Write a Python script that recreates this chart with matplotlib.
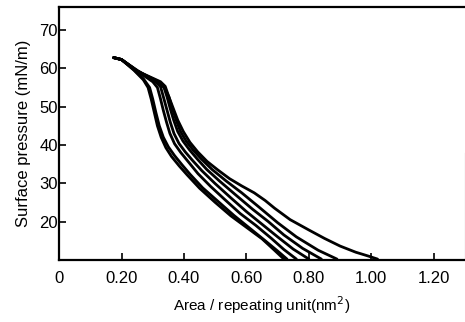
import matplotlib.pyplot as plt

# Pressure-area isotherms, repeated compression cycles
area_1 = [0.175, 0.20, 0.24, 0.27, 0.285, 0.295, 0.305, 0.315, 0.327, 0.342, 0.36, 0.385, 0.41, 0.45, 0.50, 0.55, 0.60, 0.65, 0.69, 0.72]
pres_1 = [62.8, 62.3, 59.5, 57.0, 55.0, 52.0, 48.5, 45.0, 42.0, 39.3, 37.0, 34.5, 32.2, 28.7, 25.0, 21.5, 18.5, 15.5, 12.5, 10.2]

area_2 = [0.175, 0.20, 0.24, 0.27, 0.29, 0.30, 0.31, 0.321, 0.334, 0.35, 0.37, 0.395, 0.42, 0.46, 0.51, 0.56, 0.61, 0.66, 0.70, 0.73]
pres_2 = [62.8, 62.3, 59.6, 57.3, 55.0, 52.0, 48.5, 45.0, 42.0, 39.5, 37.2, 34.7, 32.3, 28.8, 25.2, 21.6, 18.3, 15.0, 12.3, 10.2]

area_3 = [0.175, 0.20, 0.25, 0.30, 0.315, 0.325, 0.334, 0.344, 0.355, 0.37, 0.39, 0.415, 0.445, 0.485, 0.53, 0.58, 0.63, 0.68, 0.72, 0.76]
pres_3 = [62.8, 62.3, 59.3, 56.5, 55.0, 52.0, 49.0, 46.0, 43.0, 40.3, 38.0, 35.5, 32.5, 29.2, 25.8, 22.1, 19.0, 15.6, 12.7, 10.2]

area_4 = [0.175, 0.20, 0.25, 0.31, 0.325, 0.336, 0.346, 0.356, 0.368, 0.384, 0.404, 0.427, 0.457, 0.50, 0.55, 0.60, 0.65, 0.70, 0.75, 0.80]
pres_4 = [62.8, 62.3, 59.3, 56.5, 55.2, 52.0, 49.0, 46.0, 43.0, 40.4, 38.2, 36.0, 33.3, 29.9, 26.2, 22.6, 19.3, 16.0, 12.8, 10.2]

area_5 = [0.175, 0.20, 0.25, 0.32, 0.335, 0.346, 0.356, 0.367, 0.38, 0.397, 0.418, 0.443, 0.473, 0.515, 0.565, 0.62, 0.67, 0.72, 0.78, 0.84]
pres_5 = [62.8, 62.3, 59.3, 56.5, 55.3, 52.5, 49.5, 46.5, 43.5, 41.0, 38.7, 36.3, 33.6, 30.5, 27.0, 23.2, 20.0, 16.5, 13.0, 10.2]

area_6 = [0.175, 0.20, 0.25, 0.325, 0.34, 0.352, 0.363, 0.375, 0.389, 0.407, 0.429, 0.455, 0.49, 0.535, 0.585, 0.64, 0.70, 0.76, 0.83, 0.89]
pres_6 = [62.8, 62.3, 59.3, 56.5, 55.3, 52.5, 49.5, 46.5, 43.5, 41.0, 38.7, 36.4, 33.6, 30.6, 27.5, 23.8, 19.7, 16.0, 12.5, 10.2]

area_7 = [0.175, 0.20, 0.25, 0.30, 0.337, 0.352, 0.366, 0.38, 0.398, 0.419, 0.444, 0.474, 0.508, 0.546, 0.585, 0.625,
          0.66, 0.69, 0.74, 0.80, 0.85, 0.90, 0.95, 0.99, 1.02]
pres_7 = [62.8, 62.3, 59.5, 57.0, 55.0, 52.5, 49.5, 46.5, 43.5, 40.7, 38.2, 35.7, 33.5, 31.2, 29.3, 27.5,
          25.5, 23.5, 20.5, 17.8, 15.6, 13.6, 12.0, 11.0, 10.2]

curves = [(area_1, pres_1), (area_2, pres_2), (area_3, pres_3), (area_4, pres_4),
          (area_5, pres_5), (area_6, pres_6), (area_7, pres_7)]

x_ticks = [0, 0.2, 0.4, 0.6, 0.8, 1.0, 1.2]
x_labels = ["0", "0.20", "0.40", "0.60", "0.80", "1.00", "1.20"]
y_ticks = [20, 30, 40, 50, 60, 70]

plt.rcParams['font.family'] = ['Liberation Sans', 'DejaVu Sans']

fig = plt.figure(figsize=(4.65, 3.22), dpi=100)
ax = fig.add_axes([0.127, 0.193, 0.873, 0.785])

for xs, ys in curves:
    ax.plot(xs, ys, color="black", lw=2.0, solid_capstyle="round", solid_joinstyle="round")

ax.set_xlim(0, 1.3)
ax.set_ylim(10, 76)
ax.set_xticks(x_ticks)
ax.set_xticklabels(x_labels)
ax.set_yticks(y_ticks)
ax.tick_params(direction="in", length=5, width=1.2, labelsize=12)
ax.tick_params(axis="x", pad=8)
ax.tick_params(axis="y", pad=1)

for side in ["left", "bottom", "top"]:
    ax.spines[side].set_linewidth(1.6)
ax.spines["right"].set_linewidth(0.8)
ax.spines["right"].set_color("#888888")
ax.spines["right"].set_bounds(10, 38)

ax.set_xlabel("Area / repeating unit(nm$^2$)", fontsize=11, labelpad=6)
ax.set_ylabel("Surface pressure (mN/m)", fontsize=12, labelpad=6)

fig.savefig("out.png", dpi=100)
